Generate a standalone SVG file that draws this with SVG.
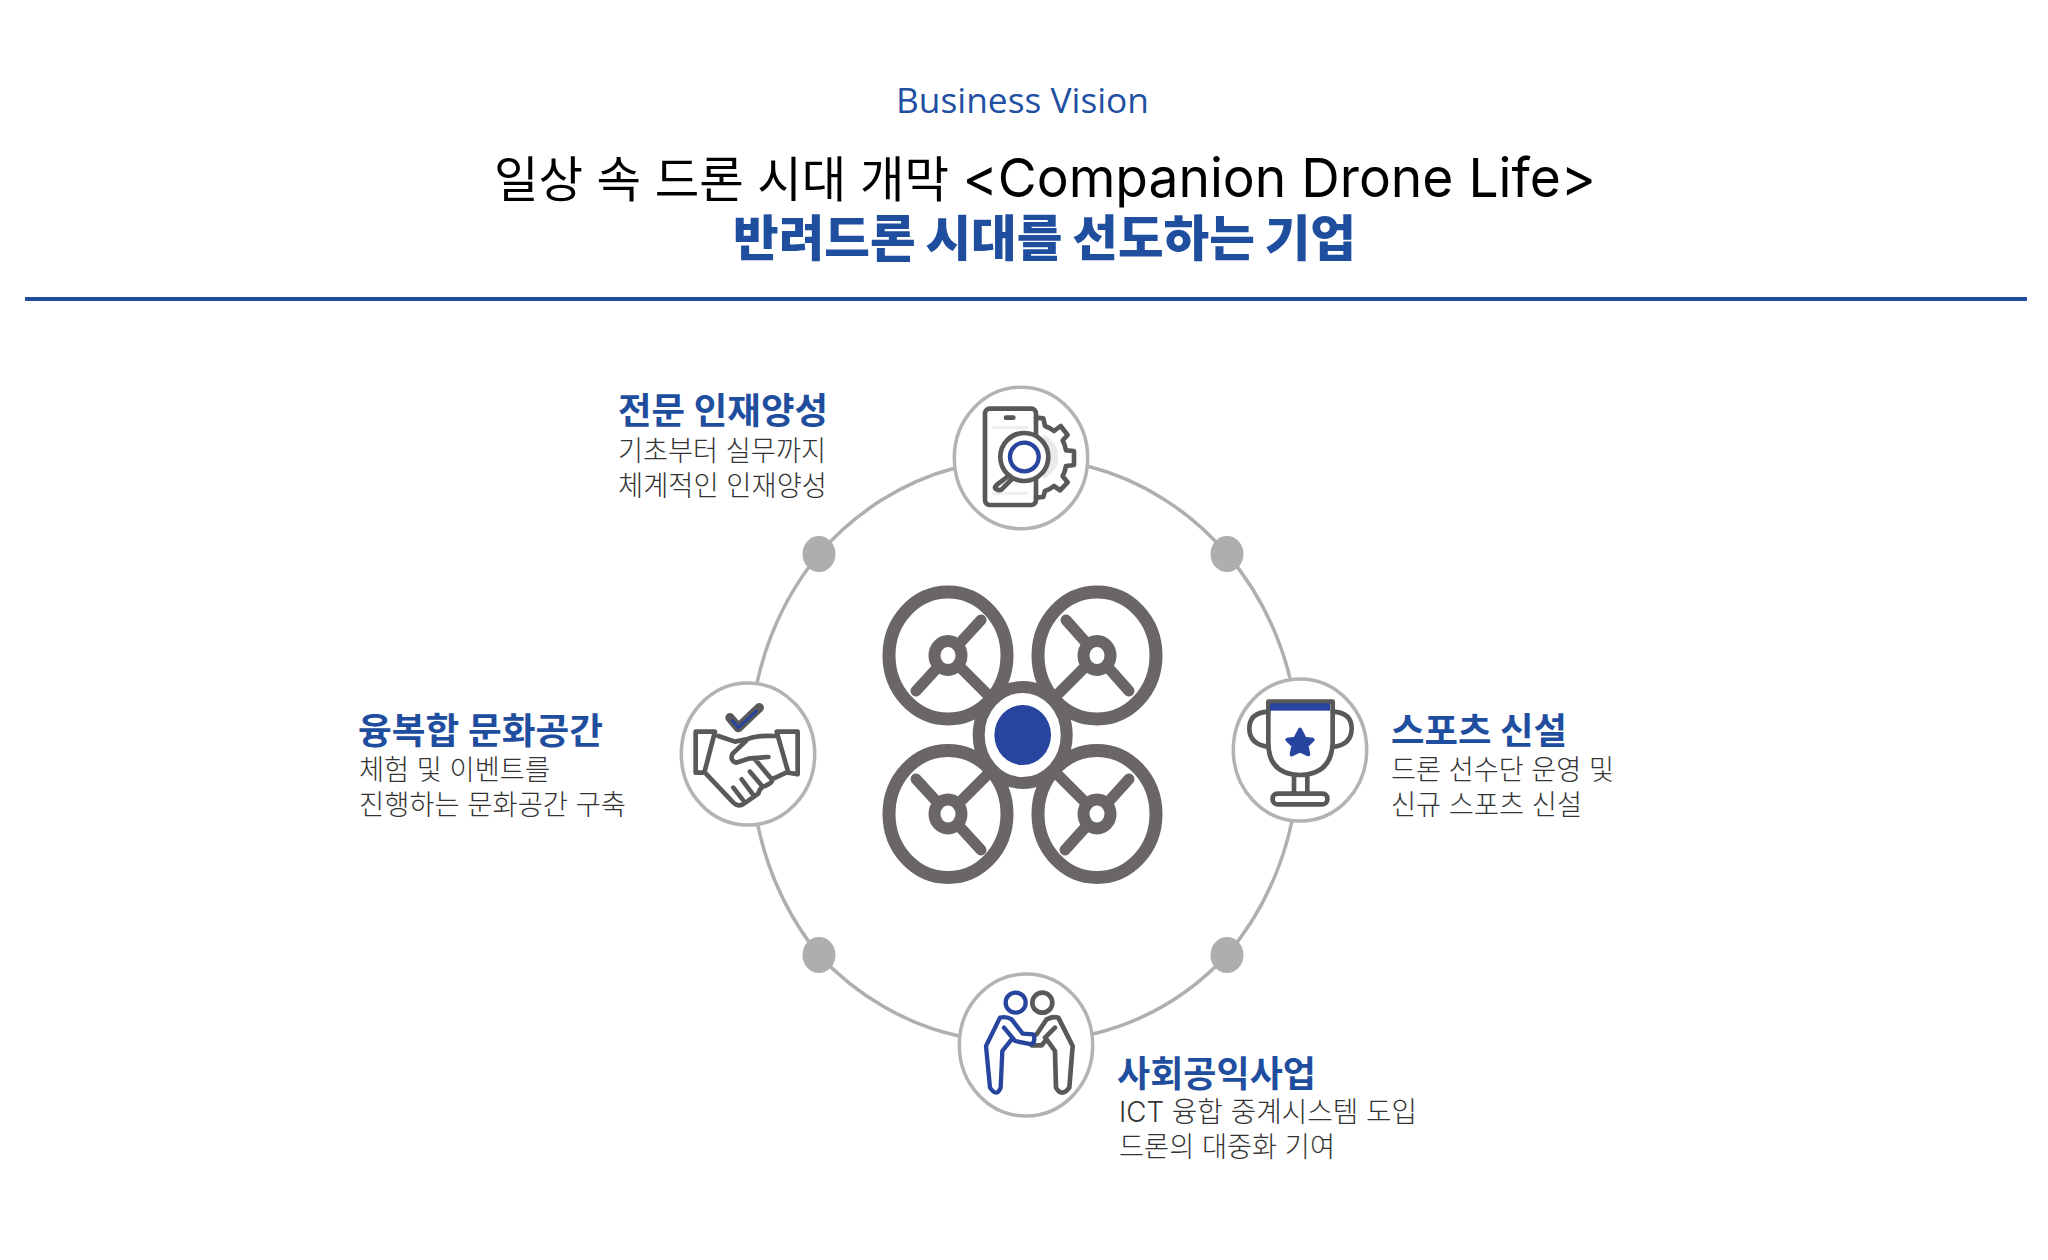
<svg xmlns="http://www.w3.org/2000/svg" width="2048" height="1260" viewBox="0 0 2048 1260">
<style>
text{font-family:Inter,"Noto Sans CJK KR","Noto Sans",sans-serif}
.sub{font-family:"Open Sans","Noto Sans",sans-serif;font-size:34px;fill:#2150a3}
.t1{font-size:49px;fill:#000}
.la{font-size:54px}
.t2{font-size:49px;font-weight:900;fill:#1f4e9f}
.h{font-size:36px;font-weight:700;fill:#1f4e9f}
.b{font-size:28px;font-weight:300;fill:#333}
.ring{fill:none;stroke:#b0aeae;stroke-width:3.5}
.dot{fill:#afadad}
.nc{fill:#fff;stroke:#b4b2b2;stroke-width:3.5}
.ic{fill:none;stroke:#595959;stroke-width:14;stroke-linecap:round;stroke-linejoin:round}
.ib{fill:none;stroke:#27459f;stroke-width:13;stroke-linecap:round;stroke-linejoin:round}
.dr{fill:none;stroke:#696665;stroke-width:13;stroke-linecap:round}
.arm{fill:none;stroke:#696665;stroke-width:11;stroke-linecap:round}
</style>
<rect width="2048" height="1260" fill="#fff"/>
<g id="header">
<text class="sub" x="896" y="113" textLength="253" lengthAdjust="spacingAndGlyphs">Business Vision</text>
<text class="t1" x="494" y="197" textLength="1102" lengthAdjust="spacingAndGlyphs">일상 속 드론 시대 개막 <tspan class="la">&lt;Companion Drone Life&gt;</tspan></text>
<text class="t2" x="733" y="256" textLength="623" lengthAdjust="spacingAndGlyphs">반려드론 시대를 선도하는 기업</text>
<rect x="25" y="297" width="2002" height="4" fill="#1f4e9f"/>
</g>
<g id="connectors">
<path class="ring" d="M955 468A276 298 0 0 0 819 554A276 298 0 0 0 757 683"/>
<path class="ring" d="M1087 466A276 298 0 0 1 1227 554A276 298 0 0 1 1290 678"/>
<path class="ring" d="M1292 821A276 298 0 0 1 1227 955A276 298 0 0 1 1093 1034"/>
<path class="ring" d="M758 826A276 298 0 0 0 819 955A276 298 0 0 0 959 1036"/>
<ellipse class="dot" cx="819" cy="554" rx="16.500" ry="18"/>
<ellipse class="dot" cx="1227" cy="554" rx="16.500" ry="18"/>
<ellipse class="dot" cx="819" cy="955" rx="16.500" ry="18"/>
<ellipse class="dot" cx="1227" cy="955" rx="16.500" ry="18"/>
</g>
<g id="drone">
<ellipse class="dr" cx="948" cy="655.500" rx="59" ry="63.500"/>
<ellipse class="dr" cx="1097" cy="655.500" rx="59" ry="63.500"/>
<ellipse class="dr" cx="948" cy="814" rx="59" ry="63.500"/>
<ellipse class="dr" cx="1097" cy="814" rx="59" ry="63.500"/>
<path class="arm" d="M981 620L916 691M948 655L992 699M1066 620L1129 691M1097 655L1053 699M916 779L981 850M948 814L992 770M1129 779L1065 850M1097 814L1053 770"/>
<g fill="#fff" stroke="#696665" stroke-width="12">
<ellipse cx="948" cy="655.500" rx="13.500" ry="14.500"/>
<ellipse cx="1097" cy="655.500" rx="13.500" ry="14.500"/>
<ellipse cx="948" cy="814" rx="13.500" ry="14.500"/>
<ellipse cx="1097" cy="814" rx="13.500" ry="14.500"/>
<ellipse cx="1022.700" cy="735" rx="44" ry="48"/>
</g>
<ellipse cx="1022.700" cy="735" rx="28.300" ry="30" fill="#27459f"/>
</g>
<g id="node-talent">
<ellipse class="nc" cx="1021" cy="458" rx="66.700" ry="70.700"/>
<g transform="translate(930 371) scale(.3333)">
<path d="M187 170H295M187 367H295" stroke="#eee" stroke-width="10" fill="none"/>
<path d="M340 190Q385 215 385 258Q385 300 340 325Z" fill="#e9e9e9"/>
<path class="ic" d="M318 140L340 142L345 165Q360 170 372 180L392 165L413 192L398 208Q405 222 408 238L432 240L432 282L408 285Q405 302 398 316L413 334L390 358L372 345Q360 355 345 360L340 378L318 380"/>
<rect class="ic" x="165" y="113" width="153" height="289" rx="14"/>
<path class="ic" d="M228 140H250"/>
<path class="ic" fill="#fff" d="M232 318L200 342Q190 352 200 355Q212 362 222 348L245 325"/>
<circle cx="283" cy="258" r="72" fill="#fff" stroke="#595959" stroke-width="14"/>
<circle class="ib" cx="283" cy="258" r="43"/>
</g>
</g>
<g id="node-culture">
<ellipse class="nc" cx="748" cy="754" rx="66.700" ry="71"/>
<g transform="translate(670 671) scale(.3333)">
<path class="ic" d="M135 182H77V305L103 305ZM320 182H383V310L355 305Z"/>
<path class="ic" d="M145 195L195 212L230 205Q262 192 315 195M230 208L188 248Q178 268 198 275L240 262L295 258M255 265L305 325L355 302M105 305L190 395Q205 410 222 398L265 368Q270 348 285 345Q310 335 305 325M240 302L272 340M215 325L247 368M190 350L218 386"/>
<path d="M180 140L205 170L268 110" fill="none" stroke="#595959" stroke-width="28" stroke-linecap="round" stroke-linejoin="round"/>
<path d="M185 146L205 170L262 118" fill="none" stroke="#27459f" stroke-width="9"/>
</g>
</g>
<g id="node-sports">
<ellipse class="nc" cx="1300" cy="750" rx="66.700" ry="71"/>
<g transform="translate(1220 671) scale(.3333)">
<path class="ic" d="M145 122Q88 125 88 172Q88 220 145 228M338 122Q395 125 395 172Q395 222 338 228"/>
<path class="ic" d="M145 92V215Q145 310 240 312Q335 310 338 215V92ZM222 315V365M262 315V365"/>
<rect x="150" y="97" width="180" height="22" fill="#27459f"/>
<rect class="ic" x="158" y="368" width="164" height="32" rx="14"/>
<path d="M240 176L254 203L278 206L260 224L265 250L240 238L215 250L220 224L202 206L226 203Z" fill="#27459f" stroke="#27459f" stroke-width="12" stroke-linejoin="round"/>
</g>
</g>
<g id="node-social">
<ellipse class="nc" cx="1026" cy="1045" rx="66.700" ry="71"/>
<g transform="translate(950 966) scale(.3333)">
<circle class="ic" cx="277" cy="110" r="30"/>
<path class="ic" d="M260 205L290 160Q310 150 325 155L368 240L358 365Q335 395 318 365L315 255L290 220L275 238L245 238M315 185L285 215"/>
<circle class="ib" cx="197" cy="110" r="30"/>
<path class="ib" d="M162 185L195 225L245 235Q258 225 250 205L218 203L185 160Q170 150 150 155L108 240L120 365Q140 395 152 365L157 255L185 220"/>
</g>
</g>
<g id="label-talent">
<text class="h" x="618" y="424" textLength="210" lengthAdjust="spacingAndGlyphs">전문 인재양성</text>
<text class="b" x="618" y="461" textLength="208" lengthAdjust="spacingAndGlyphs">기초부터 실무까지</text>
<text class="b" x="618" y="496" textLength="209" lengthAdjust="spacingAndGlyphs">체계적인 인재양성</text>
</g>
<g id="label-culture">
<text class="h" x="358" y="744" textLength="245" lengthAdjust="spacingAndGlyphs">융복합 문화공간</text>
<text class="b" x="359" y="780" textLength="191" lengthAdjust="spacingAndGlyphs">체험 및 이벤트를</text>
<text class="b" x="359" y="815" textLength="267" lengthAdjust="spacingAndGlyphs">진행하는 문화공간 구축</text>
</g>
<g id="label-sports">
<text class="h" x="1391" y="744" textLength="176" lengthAdjust="spacingAndGlyphs">스포츠 신설</text>
<text class="b" x="1391" y="780" textLength="223" lengthAdjust="spacingAndGlyphs">드론 선수단 운영 및</text>
<text class="b" x="1391" y="815" textLength="191" lengthAdjust="spacingAndGlyphs">신규 스포츠 신설</text>
</g>
<g id="label-social">
<text class="h" x="1117" y="1087" textLength="199" lengthAdjust="spacingAndGlyphs">사회공익사업</text>
<text class="b" x="1119" y="1122" textLength="298" lengthAdjust="spacingAndGlyphs">ICT 융합 중계시스템 도입</text>
<text class="b" x="1119" y="1157" textLength="216" lengthAdjust="spacingAndGlyphs">드론의 대중화 기여</text>
</g>
</svg>
